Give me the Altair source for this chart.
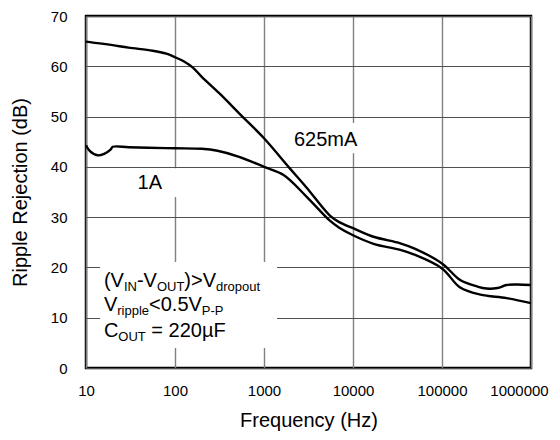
import altair as alt
import pandas as pd

FONT = "Liberation Sans"

# ---- data ----
freq_625 = [10, 12, 15, 20, 30, 56, 80, 100, 125, 160, 200, 316, 550, 1000, 1950, 3000, 5500,
            7000, 10000, 17000, 34000, 50000, 100000, 160000, 250000, 316000, 420000,
            530000, 700000, 1000000]
db_625 = [64.9, 64.7, 64.5, 64.2, 63.7, 63.1, 62.5, 61.8, 61.0, 59.7, 57.9, 54.6, 50.3, 45.7,
          39.7, 35.9, 30.3, 29.0, 27.8, 26.1, 24.8, 23.7, 20.8, 17.5, 16.2, 15.8, 15.9, 16.5,
          16.6, 16.5]

freq_1a = [10, 11, 13.5, 16, 19, 20, 30, 50, 100, 200, 300, 525, 1000, 1660, 3000, 5500,
           7000, 10000, 17000, 34000, 48000, 100000, 160000, 270000, 530000, 1000000]
db_1a = [44.3, 43.2, 42.3, 42.6, 43.5, 44.0, 43.9, 43.8, 43.7, 43.6, 43.2, 42.0, 40.0, 38.4,
         34.1, 29.3, 27.9, 26.4, 24.7, 23.5, 22.6, 19.8, 16.0, 14.6, 13.9, 12.9]

x_ticks = [10, 100, 1000, 10000, 100000, 1000000]
y_ticks = [0, 10, 20, 30, 40, 50, 60, 70]

# curve labels
curve_labels = ["625mA", "1A"]
curve_label_f = [2173, 38]
curve_label_db = [44.1, 35.5]

# white boxes behind the text (gridline breaks)
box_f0 = [1960, 31, 14.4]
box_f1 = [12000, 113, 1400]
box_db0 = [42.7, 34.0, 4.0]
box_db1 = [48.7, 39.7, 21.1]

# condition note: lines of (text, is_subscript) segments
note_lines = [
    [("(V", 0), ("IN", 1), ("-V", 0), ("OUT", 1), (")>V", 0), ("dropout", 1)],
    [("V", 0), ("ripple", 1), ("<0.5V", 0), ("P-P", 1)],
    [("C", 0), ("OUT", 1), (" = 220µF", 0)],
]
note_f = 15.9
note_db = [16.2, 11.4, 6.2]

MAIN = 20
SUB = 13

W = {" ": 278, "(": 333, ")": 333, "-": 333, ">": 584, "<": 584, "=": 584, ".": 278,
     "µ": 576, "A": 667, "B": 667, "C": 722, "D": 722, "F": 611, "I": 278, "N": 722,
     "O": 778, "P": 667, "T": 611, "U": 722, "V": 667, "a": 556, "d": 556, "e": 556,
     "i": 222, "l": 222, "n": 556, "o": 556, "p": 556, "r": 333, "t": 278, "u": 556,
     "m": 833}


def tw(s, size):
    return sum(W.get(c, 556) for c in s) / 1000.0 * size


xscale = alt.Scale(type="log", domain=[10, 1000000], nice=False)
yscale = alt.Scale(domain=[0, 70], nice=False, zero=False)
xaxis = alt.Axis(values=x_ticks, format="d", title="Frequency (Hz)", labelFontSize=15,
                 labelPadding=15, titleFontSize=20, titlePadding=12, labelFlush=False,
                 labelOverlap=False, gridColor="#808080", gridWidth=1.4,
                 labelOffset={"condition": {"test": "datum.value >= 1000000", "value": -12},
                              "value": 0})
yaxis = alt.Axis(values=y_ticks, title="Ripple Rejection (dB)", labelFontSize=15,
                 labelPadding=19, titleFontSize=20, titlePadding=20,
                 gridColor="#505050", gridWidth=1.1)


def X(field):
    return alt.X(field, type="quantitative", scale=xscale, axis=xaxis)


def Y(field):
    return alt.Y(field, type="quantitative", scale=yscale, axis=yaxis)


curves = pd.DataFrame({
    "f": freq_625 + freq_1a,
    "db": db_625 + db_1a,
    "series": ["625mA"] * len(freq_625) + ["1A"] * len(freq_1a),
})
boxes = pd.DataFrame({"f0": box_f0, "f1": box_f1, "d0": box_db0, "d1": box_db1})
labels = pd.DataFrame({"f": curve_label_f, "db": curve_label_db, "t": curve_labels})

layers = []
layers.append(alt.Chart(boxes).mark_rect(color="white").encode(
    x=X("f0"), x2="f1", y=Y("d0"), y2="d1"))
layers.append(alt.Chart(curves).mark_line(color="black", strokeWidth=2.4,
                                          interpolate="catmull-rom").encode(
    x=X("f"), y=Y("db"), detail="series:N"))
layers.append(alt.Chart(labels).mark_text(align="left", baseline="alphabetic", font=FONT,
                                          fontSize=20, color="black").encode(
    x=X("f"), y=Y("db"), text="t:N"))

for li, segs in enumerate(note_lines):
    off = 0.0
    for text, sub in segs:
        size = SUB if sub else MAIN
        lead = len(text) - len(text.lstrip(" "))
        off_here = off + tw(" " * lead, size)
        seg_df = pd.DataFrame({"f": [note_f], "db": [note_db[li]], "t": [text.strip()]})
        layers.append(alt.Chart(seg_df).mark_text(
            align="left", baseline="alphabetic", font=FONT, fontSize=size, color="black",
            dx=off_here, dy=4 if sub else 0).encode(x=X("f"), y=Y("db"), text="t:N"))
        off += tw(text, size)

chart = alt.layer(*layers).properties(
    width=445, height=352,
    autosize=alt.AutoSizeParams(type="none"),
    padding={"left": 78, "top": 8, "right": 21, "bottom": 64},
).configure_view(stroke="black", strokeWidth=2.5).configure_axis(
    grid=True, domain=False, ticks=False,
    labelFont=FONT, titleFont=FONT, labelColor="black", titleColor="black",
    titleFontWeight="normal")

chart.save("out.html", embed_options={"renderer": "svg", "actions": False})
